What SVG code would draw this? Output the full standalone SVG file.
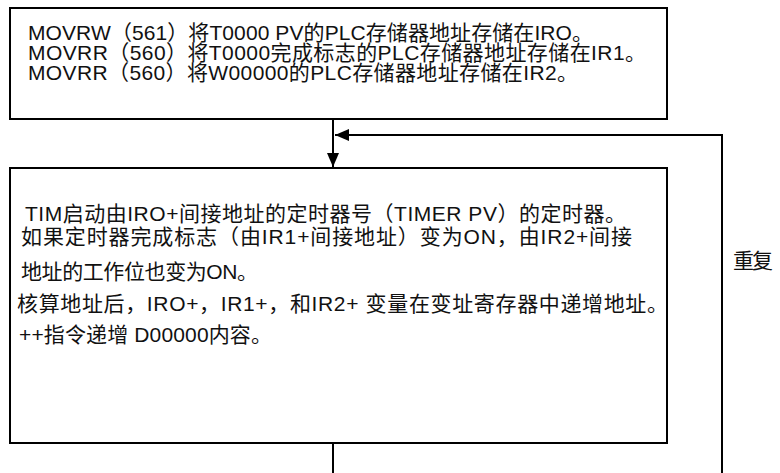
<svg xmlns="http://www.w3.org/2000/svg" width="780" height="473" viewBox="0 0 780 473">
<style>
.box{fill:#fff;stroke:#000;stroke-width:2}
.t{font-family:"Liberation Sans","Noto Sans CJK SC",sans-serif;font-size:21px;fill:#111}
.c{fill:none;stroke:#000;stroke-width:2}
</style>
<defs>
<marker id="ah" viewBox="0 0 14 12" refX="14" refY="6" markerWidth="14" markerHeight="12" markerUnits="userSpaceOnUse" orient="auto">
<path d="M0,0 L14,6 L0,12 Z" fill="#000"/>
</marker>
</defs>
<rect width="780" height="473" fill="#fff"/>
<g id="connectors">
<path class="c" d="M333,119 V167" marker-end="url(#ah)"/>
<path class="c" d="M333,443 V490 H722 V135 H335" marker-end="url(#ah)"/>
</g>
<g id="node-init">
<rect class="box" x="10" y="8" width="657" height="111"/>
<text class="t" x="28" y="40" textLength="565" lengthAdjust="spacing">MOVRW（561）将T0000 PV的PLC存储器地址存储在IRO。</text>
<text class="t" x="28" y="60" textLength="618" lengthAdjust="spacing">MOVRR（560）将T0000完成标志的PLC存储器地址存储在IR1。</text>
<text class="t" x="28" y="80" textLength="550" lengthAdjust="spacing">MOVRR（560）将W00000的PLC存储器地址存储在IR2。</text>
</g>
<g id="node-loop">
<rect class="box" x="10" y="168" width="657" height="275"/>
<text class="t" x="25" y="221" textLength="601" lengthAdjust="spacing">TIM启动由IRO+间接地址的定时器号（TIMER PV）的定时器。</text>
<text class="t" x="21" y="244" textLength="611" lengthAdjust="spacing">如果定时器完成标志（由IR1+间接地址）变为ON，由IR2+间接</text>
<text class="t" x="21" y="279" textLength="237" lengthAdjust="spacing">地址的工作位也变为ON。</text>
<text class="t" x="17" y="311" textLength="651" lengthAdjust="spacing">核算地址后，IRO+，IR1+，和IR2+ 变量在变址寄存器中递增地址。</text>
<text class="t" x="19" y="342" textLength="253" lengthAdjust="spacing">++指令递增 D00000内容。</text>
</g>
<g id="label-repeat">
<text class="t" x="733" y="268" textLength="40" lengthAdjust="spacing">重复</text>
</g>
</svg>
